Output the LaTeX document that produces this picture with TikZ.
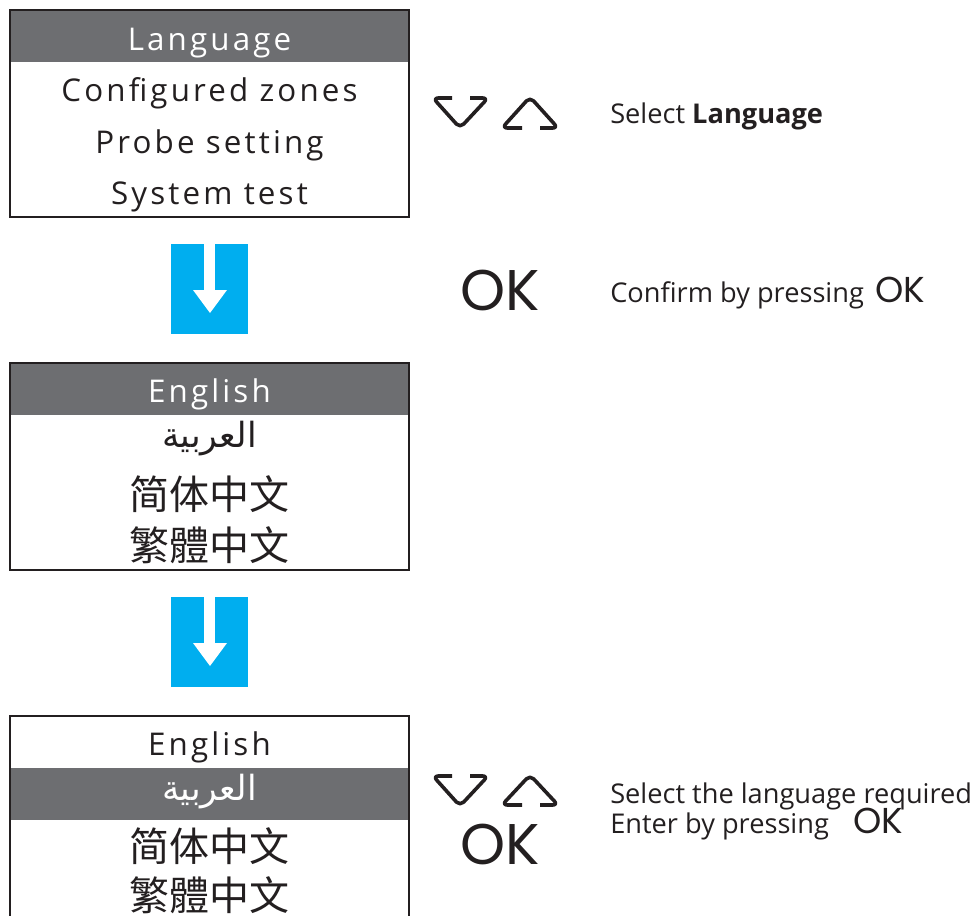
\documentclass[tikz,border=0pt]{standalone}
\usepackage{fontspec}
\setmainfont{Open Sans}
\newfontfamily\boxfont[LetterSpace=10]{Open Sans}
\newfontfamily\okfont{Poppins}
\newfontfamily\arabicfont[Script=Arabic]{DejaVu Sans}
\newfontfamily\cjksc{Noto Sans CJK SC}
\newfontfamily\cjktc{Noto Sans CJK TC}
\TeXXeTstate=1
\definecolor{hdr}{HTML}{6D6E71}
\definecolor{sky}{HTML}{00AEEF}
\definecolor{ink}{HTML}{231F20}
\tikzset{
  boxtxt/.style={font=\boxfont\fontsize{23.5}{28}\selectfont, text=ink, anchor=base, inner sep=0pt},
  hdrtxt/.style={boxtxt, text=white},
  arab/.style={font=\arabicfont\fontsize{26}{30}\selectfont, text=ink, anchor=center, inner sep=0pt},
  cjk/.style={font=\fontsize{30}{34}\selectfont, text=ink, anchor=center, inner sep=0pt},
  side/.style={font=\fontsize{20.4}{24}\selectfont, text=ink, anchor=base west, inner sep=0pt},
  okbig/.style={font=\okfont\fontsize{43}{48}\selectfont, text=ink, anchor=base west, inner sep=0pt},
  oksmall/.style={font=\okfont\fontsize{27}{30}\selectfont, text=ink, anchor=base west, inner sep=0pt},
  frame/.style={draw=ink, line width=0.8pt},
  chev/.style={draw=ink, line width=2.7pt, rounded corners=4pt, line join=round},
  bluebox/.style={fill=sky}
}
\begin{document}
\begin{tikzpicture}[x=0.75pt,y=-0.75pt]
\useasboundingbox (0,0) rectangle (977,916);

% ---------- box 1
\fill[hdr] (10,10) rectangle (409,62);
\draw[frame] (10,10) rectangle (409,217);
\node[hdrtxt] (l1) at (209.5,51) {Language};
\node[boxtxt] (l2) at (209.5,102) {Configured zones};
\node[boxtxt] (l3) at (209.5,154) {Probe setting};
\node[boxtxt] (l4) at (209.5,205) {System test};

% chevrons 1
\draw[chev] (452,98) -- (433,98) -- (460,128) -- (488,98) -- (470,98);
\draw[chev] (522,128) -- (502,128) -- (530,97) -- (558,128) -- (540,128);
\node[side] (t1) at (610,124) {Select \textbf{Language}};

% ---------- arrow 1
\fill[bluebox] (171,244) rectangle (248,334);
\fill[white] (204,243.5) rectangle (215,292);
\fill[white] (193,290) -- (227,290) -- (210,313) -- cycle;

\node[okbig] (ok1) at (460,310) {OK};
\node[side] (t2) at (610,302) {Confirm by pressing};
\node[oksmall] (ok2) at (875,302) {OK};

% ---------- box 2
\fill[hdr] (10,363) rectangle (409,415);
\draw[frame] (10,363) rectangle (409,570);
\node[hdrtxt] (e1) at (209.5,402) {English};
\node[arab] (a1) at (209.5,439) {\beginR العربية\endR};
\node[cjk] (s1) at (209.5,494) {\cjksc 简体中文};
\node[cjk] (c1) at (209.5,545) {\cjktc 繁體中文};

% ---------- arrow 2
\fill[bluebox] (171,597) rectangle (248,687);
\fill[white] (204,596.5) rectangle (215,645);
\fill[white] (193,643) -- (227,643) -- (210,666) -- cycle;

% ---------- box 3
\fill[hdr] (10,768) rectangle (409,820);
\draw[frame] (10,930) -- (10,716) -- (409,716) -- (409,930);
\node[boxtxt] (e2) at (209.5,755) {English};
\node[arab, text=white] (a2) at (209.5,792) {\beginR العربية\endR};
\node[cjk] (s2) at (209.5,846) {\cjksc 简体中文};
\node[cjk] (c2) at (209.5,895) {\cjktc 繁體中文};

% chevrons 2
\draw[chev] (452,776) -- (433,776) -- (460,806) -- (488,776) -- (470,776);
\draw[chev] (522,805) -- (502,805) -- (530,775) -- (558,805) -- (540,805);
\node[okbig] (ok3) at (460,864) {OK};

\node[side] (t3) at (610,803) {Select the language required};
\node[side] (t4) at (610,833) {Enter by pressing};
\node[oksmall] (ok4) at (853,833) {OK};
\end{tikzpicture}
\end{document}
